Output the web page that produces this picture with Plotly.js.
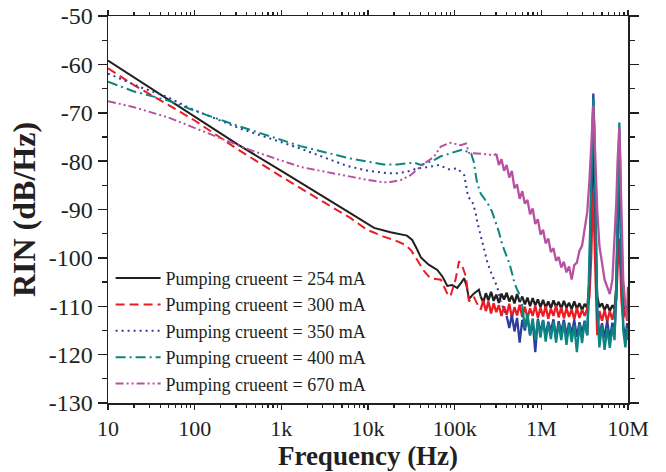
<!DOCTYPE html>
<html><head><meta charset="utf-8">
<script src="https://cdn.plot.ly/plotly-3.0.1.min.js"></script>
<style>html,body{margin:0;padding:0;background:#fff}#chart{width:666px;height:472px}</style>
</head><body><div id="chart"></div>
<script>
// ---- Data (log10 of frequency in Hz, RIN in dB/Hz) ----
const seriesNames = ['Pumping crueent = 254 mA','Pumping crueent = 300 mA','Pumping crueent = 350 mA','Pumping crueent = 400 mA','Pumping crueent = 670 mA'];
const xTickVals = [10,100,1000,10000,100000,1000000,10000000];
const xTickText = ['10','100','1k','10k','100k','1M','10M'];
const yTickVals = [-130,-120,-110,-100,-90,-80,-70,-60,-50];
const yTickText = ['-130','-120','-110','-100','-90','-80','-70','-60','-50'];

// smooth (low-frequency) parts
const lf254 = [1.0,1.5,2.0,2.5,3.0,3.5,3.8,4.07,4.26,4.45,4.51,4.56,4.61,4.70,4.80,4.86,4.915,4.97,5.03,5.08,5.11,5.14,5.165,5.22,5.28,5.30];
const rin254 = [-59.2,-65.0,-70.8,-76.6,-82.0,-87.6,-90.8,-93.8,-94.7,-95.4,-96.3,-98.0,-99.9,-101.4,-102.5,-103.9,-105.8,-105.6,-106.2,-105.0,-104.2,-106.0,-108.5,-107.4,-106.6,-108.0];

const lf300 = [1.0,1.3,1.7,2.0,2.5,3.0,3.5,3.8,3.99,4.18,4.3,4.43,4.50,4.57,4.65,4.72,4.84,4.92,4.95,5.01,5.05,5.09,5.13,5.165,5.22,5.26,5.30];
const rin300 = [-60.8,-64.3,-68.4,-71.6,-77.6,-83.2,-88.6,-91.8,-94.2,-95.6,-96.3,-97.3,-98.5,-100.4,-102.8,-104.2,-104.5,-107.6,-108.0,-104.5,-100.7,-101.8,-103.9,-109.0,-108.0,-109.5,-110.7];

const lf350 = [1.0,1.37,1.68,1.95,2.53,3.22,3.76,4.0,4.22,4.34,4.45,4.57,4.70,4.82,4.93,5.03,5.11,5.13,5.155,5.20,5.24,5.26,5.29,5.31,5.34,5.38,5.43,5.49,5.53,5.57,5.60];
const rin350 = [-61.9,-64.7,-66.7,-69.1,-73.3,-77.4,-81.0,-82.0,-82.5,-82.5,-82.2,-81.5,-81.2,-80.8,-81.7,-81.5,-82.9,-85.3,-87.4,-88.2,-90.5,-92.5,-94.6,-96.6,-98.7,-101.1,-103.5,-105.9,-109.0,-110.7,-112.0];

const lf400 = [1.0,1.3,1.68,2.0,2.53,3.22,3.78,4.0,4.18,4.34,4.53,4.61,4.76,4.84,5.0,5.09,5.19,5.22,5.24,5.26,5.30,5.38,5.43,5.47,5.51,5.55,5.59,5.63,5.67,5.69,5.72,5.75,5.78];
const rin400 = [-63.6,-65.6,-67.4,-69.6,-72.9,-76.9,-79.4,-80.1,-80.7,-80.7,-80.3,-80.8,-79.8,-79.0,-78.1,-77.6,-78.4,-80.1,-82.5,-84.6,-86.7,-88.7,-90.4,-92.5,-94.6,-97.3,-99.0,-101.1,-103.7,-105.2,-106.5,-107.6,-110.0];

const lf670 = [1.0,1.29,1.7,2.06,2.64,3.22,3.78,4.0,4.18,4.26,4.38,4.49,4.65,4.76,4.84,4.95,5.07,5.13,5.165,5.26,5.38,5.45,5.48];
const rin670 = [-67.6,-68.8,-71.0,-73.6,-77.7,-81.2,-83.2,-83.9,-84.4,-84.3,-83.9,-82.9,-80.5,-79.1,-77.0,-76.2,-76.7,-76.35,-78.3,-78.4,-78.6,-78.8,-78.5];

// noisy (high-frequency) parts, shared frequency grid
const lfNoise = [5.30,5.33,5.36,5.39,5.42,5.45,5.48,5.51,5.54,5.57,
  5.60,5.63,5.66,5.69,5.72,5.75,5.78,5.81,5.84,5.87,
  5.90,5.93,5.96,5.99,6.02,6.05,6.08,6.11,6.14,6.17,
  6.20,6.23,6.26,6.29,6.32,6.35,6.38,6.41,6.44,6.47,
  6.50,6.53,6.555,6.575,6.59,6.60,6.61,6.625,6.645,6.67,
  6.70,6.73,6.76,6.79,6.82,6.845,6.865,6.88,6.89,6.90,
  6.91,6.925,6.945,6.97,6.99,7.00];

const noise254 = [-108.0,-109.2,-107.3,-108.8,-107.0,-108.9,-107.6,-109.3,-107.4,-108.6,
  -107.2,-109.0,-107.8,-109.4,-107.5,-109.1,-108.0,-109.6,-108.2,-110.0,
  -108.3,-109.8,-108.6,-110.2,-108.7,-110.3,-109.0,-110.4,-108.8,-110.1,
  -109.1,-110.5,-108.9,-110.3,-109.3,-110.6,-109.0,-110.5,-109.4,-110.8,
  -109.5,-110.4,-105.0,-92.0,-80.0,-74.0,-82.0,-98.0,-108.0,-110.2,
  -109.4,-110.8,-109.6,-111.0,-109.8,-110.6,-106.0,-96.0,-86.0,-80.0,
  -88.0,-102.0,-109.5,-110.8,-110.0,-110.5];

const noise300 = [-110.7,-108.8,-111.0,-109.0,-111.5,-109.4,-111.2,-109.8,-112.0,-110.0,
  -111.8,-109.5,-112.3,-110.2,-111.9,-109.7,-112.2,-110.1,-112.5,-110.4,
  -112.0,-109.9,-112.4,-110.3,-112.1,-110.0,-112.6,-110.5,-112.0,-109.8,
  -112.3,-110.2,-112.5,-110.4,-112.2,-110.6,-112.8,-110.3,-112.4,-110.7,
  -112.0,-110.5,-108.0,-100.0,-90.0,-86.0,-94.0,-106.0,-116.0,-111.0,
  -113.0,-110.8,-113.2,-111.0,-112.8,-110.6,-108.5,-102.0,-98.0,-96.0,
  -101.0,-109.0,-112.5,-110.5,-113.0,-106.0];

const noise350 = [null,null,null,null,null,null,null,null,null,null,
  -112.0,-114.5,-111.8,-115.2,-112.4,-117.5,-112.8,-115.0,-112.2,-116.0,
  -113.0,-119.5,-112.6,-115.4,-112.9,-116.2,-113.2,-115.0,-112.7,-116.5,
  -113.1,-115.3,-112.8,-116.0,-113.4,-115.6,-112.9,-116.3,-113.3,-115.5,
  -113.0,-116.0,-104.0,-88.0,-72.0,-66.0,-75.0,-95.0,-112.0,-116.0,
  -113.5,-116.5,-113.0,-116.8,-113.4,-115.8,-108.0,-95.0,-84.0,-77.0,
  -86.0,-103.0,-114.0,-116.5,-113.5,-115.0];

const noise400 = [null,null,null,null,null,null,null,null,null,null,
  null,null,null,null,null,null,-110.0,-114.5,-111.5,-116.0,
  -112.5,-117.0,-113.0,-116.5,-112.8,-117.3,-113.5,-116.8,-113.2,-117.5,
  -113.6,-117.0,-113.4,-118.0,-113.8,-117.4,-114.0,-119.5,-113.7,-117.6,
  -113.2,-116.0,-100.0,-84.0,-70.0,-67.0,-72.0,-90.0,-110.0,-118.5,
  -114.0,-119.0,-114.5,-118.6,-114.2,-117.0,-105.0,-90.0,-78.0,-72.0,
  -80.0,-100.0,-115.0,-118.5,-114.5,-117.0];

const noise670 = [null,null,null,null,null,null,-78.5,-80.8,-79.6,-82.0,
  -80.8,-83.4,-82.0,-85.6,-84.8,-87.8,-86.2,-88.8,-88.0,-91.0,
  -89.8,-93.0,-92.0,-95.2,-94.2,-97.0,-96.0,-98.8,-98.0,-100.6,
  -99.8,-102.0,-100.8,-103.0,-101.8,-104.5,-101.5,-101.0,-98.5,-97.5,
  -94.0,-90.5,-84.0,-76.0,-70.0,-68.5,-73.0,-82.0,-90.0,-97.5,
  -101.5,-104.5,-106.0,-107.5,-104.5,-96.0,-88.5,-80.0,-76.0,-73.0,
  -80.0,-92.0,-104.5,-110.0,-112.0,-113.0];

// ---- Drawing ----
const toHz = a => a.map(v => v === null ? null : Math.pow(10, v));
const FONT = 'Liberation Serif';
const INK = '#231f20';
const styles = [
  {color:'#231f20', dash:'solid'},
  {color:'#ed1c24', dash:'9px,5px'},
  {color:'#2e3d9c', dash:'2px,4px'},
  {color:'#0a8580', dash:'10px,4px,2px,4px'},
  {color:'#b8519f', dash:'8px,3px,2px,3px,2px,3px'}
];
const lows = [[lf254,rin254],[lf300,rin300],[lf350,rin350],[lf400,rin400],[lf670,rin670]];
const noises = [noise254,noise300,noise350,noise400,noise670];

const traces = [];
for (let i = 0; i < 5; i++) {
  traces.push({type:'scatter', mode:'lines', x: toHz(lfNoise), y: noises[i], showlegend:false,
    legendgroup:'g'+i, connectgaps:false, hoverinfo:'skip',
    line:{color:styles[i].color, width:2.3}});
  traces.push({type:'scatter', mode:'lines', x: toHz(lows[i][0]), y: lows[i][1], name: seriesNames[i],
    legendgroup:'g'+i, line:{color:styles[i].color, width:2, dash:styles[i].dash}});
}

const axisCommon = {
  showgrid:false, zeroline:false, showline:true, linecolor:INK, linewidth:1.5,
  mirror:'allticks', ticks:'outside', tickwidth:1.5, tickcolor:INK, tickmode:'array'
};

const layout = {
  width:666, height:472,
  margin:{l:108, r:38, t:16, b:69},
  paper_bgcolor:'#ffffff', plot_bgcolor:'#ffffff',
  font:{family:FONT, color:INK},
  showlegend:true,
  legend:{x:0.005, xanchor:'left', y:0.37, yanchor:'top', bgcolor:'rgba(0,0,0,0)',
    font:{family:FONT, size:18, color:INK}, tracegroupgap:0, itemwidth:45},
  xaxis:Object.assign({}, axisCommon, {
    type:'log', range:[1,7], tickvals:xTickVals, ticktext:xTickText, ticklen:5,
    tickfont:{family:FONT, size:22, color:INK},
    minor:{ticks:'outside', ticklen:3, tickwidth:1.2, tickcolor:INK, dtick:'D1', showgrid:false},
    title:{text:'Frequency (Hz)', font:{family:FONT, size:27, weight:'bold', color:INK}, standoff:5}
  }),
  yaxis:Object.assign({}, axisCommon, {
    range:[-130,-50], tickvals:yTickVals, ticktext:yTickText, ticklen:9,
    tickfont:{family:FONT, size:24, color:INK},
    minor:{ticks:'outside', ticklen:5, tickwidth:1.2, tickcolor:INK, dtick:5, showgrid:false},
    title:{text:'RIN (dB/Hz)', font:{family:FONT, size:32, weight:'bold', color:INK}, standoff:3}
  })
};

Plotly.newPlot('chart', traces, layout, {displayModeBar:false, staticPlot:true});
</script>
</body></html>
